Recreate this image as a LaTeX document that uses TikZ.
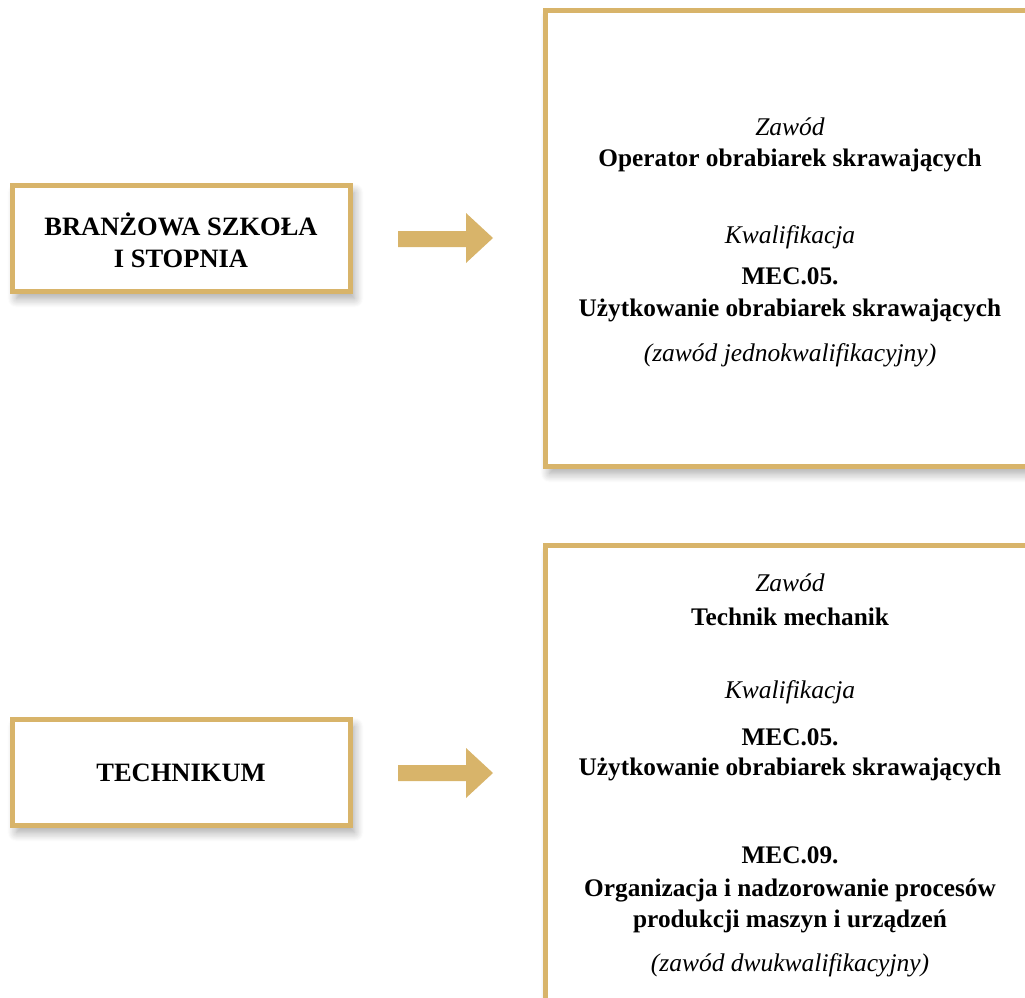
\documentclass[tikz,border=0pt]{standalone}
\usepackage{fontspec}
\setmainfont{Liberation Serif}
\usetikzlibrary{shadows.blur}
\definecolor{gold}{RGB}{216,180,106}
\tikzset{
  box/.style={draw=gold, line width=5pt, fill=white, blur shadow={shadow xshift=4pt, shadow yshift=-7pt, shadow blur steps=10, shadow blur radius=9pt, shadow opacity=35}},
  arr/.style={fill=gold, draw=none},
  lab/.style={font=\fontsize{26.5}{32}\selectfont\bfseries, align=center, inner sep=0pt},
  it/.style={font=\fontsize{25.5}{30}\selectfont\itshape, inner sep=0pt},
  bd/.style={font=\fontsize{25.3}{30}\selectfont\bfseries, inner sep=0pt},
}
\begin{document}
\begin{tikzpicture}[x=1pt,y=-1pt]
\useasboundingbox (0,0) rectangle (1025,998);
\clip (0,0) rectangle (1025,998);
% left boxes
\path[box] (12.5,185.5) rectangle (350.5,291.5);
\node[lab] (b1) at (181,240) {BRANŻOWA SZKOŁA\\I STOPNIA};
\path[box] (12.5,719.5) rectangle (350.5,825.5);
\node[lab] (b2) at (181,773) {TECHNIKUM};
% right boxes
\path[box] (545.5,10.5) rectangle (1040,466.5);
\path[box] (545.5,545.5) rectangle (1040,1010);
% arrows
\fill[arr] (398,231) -- (466,231) -- (466,213) -- (493,238) -- (466,263) -- (466,247) -- (398,247) -- cycle;
\fill[arr] (398,765) -- (466,765) -- (466,748) -- (493,773) -- (466,798) -- (466,781) -- (398,781) -- cycle;
% right text 1
\node[it] (t1) at (790,127) {Zawód};
\node[bd] (t2) at (790,160) {Operator obrabiarek skrawających};
\node[it] (t3) at (790,237) {Kwalifikacja};
\node[bd] (t4) at (790,276) {MEC.05.};
\node[bd] (t5) at (790,310) {Użytkowanie obrabiarek skrawających};
\node[it] (t6) at (790,355) {(zawód jednokwalifikacyjny)};
% right text 2
\node[it] (u1) at (790,583) {Zawód};
\node[bd] (u2) at (790,617) {Technik mechanik};
\node[it] (u3) at (790,692) {Kwalifikacja};
\node[bd] (u4) at (790,737) {MEC.05.};
\node[bd] (u5) at (790,769) {Użytkowanie obrabiarek skrawających};
\node[bd] (u6) at (790,855) {MEC.09.};
\node[bd] (u7) at (790,890) {Organizacja i nadzorowanie procesów};
\node[bd] (u8) at (790,921) {produkcji maszyn i urządzeń};
\node[it] (u9) at (790,965) {(zawód dwukwalifikacyjny)};
\end{tikzpicture}
\end{document}
